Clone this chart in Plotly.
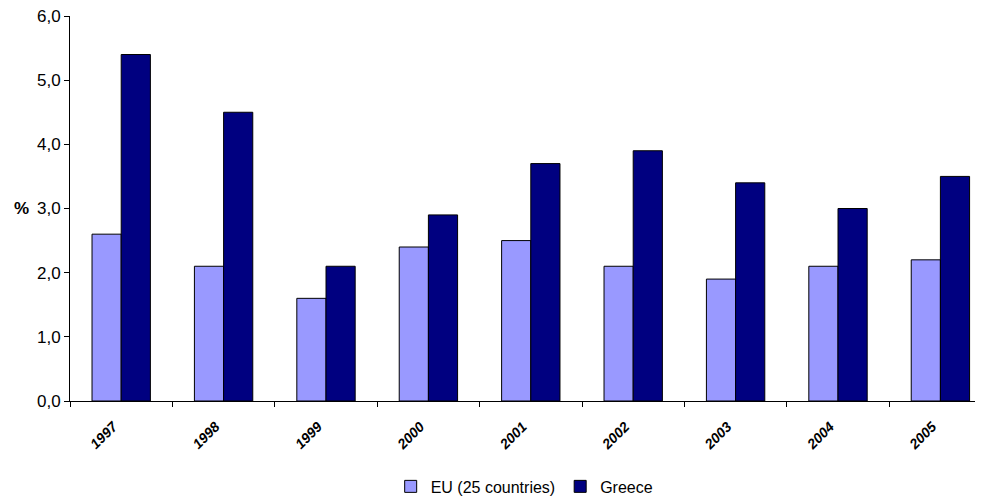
import plotly.graph_objects as go

years = ["1997", "1998", "1999", "2000", "2001", "2002", "2003", "2004", "2005"]
eu25 = [2.6, 2.1, 1.6, 2.4, 2.5, 2.1, 1.9, 2.1, 2.2]
greece = [5.4, 4.5, 2.1, 2.9, 3.7, 3.9, 3.4, 3.0, 3.5]
y_ticks = [0, 1, 2, 3, 4, 5, 6]

fig = go.Figure()
fig.add_trace(go.Bar(x=years, y=eu25, name="EU (25 countries)",
                     marker=dict(color="#9999FF", line=dict(color="black", width=1))))
fig.add_trace(go.Bar(x=years, y=greece, name="Greece",
                     marker=dict(color="#000080", line=dict(color="black", width=1))))

fig.update_layout(
    width=975, height=489,
    margin=dict(l=62, r=0, t=8, b=96, autoexpand=False),
    paper_bgcolor="white", plot_bgcolor="white",
    barmode="group", bargap=0.43, bargroupgap=0,
    separators=",.",
    font=dict(family="Liberation Sans, Arial, sans-serif", color="black"),
    showlegend=True,
    legend=dict(orientation="h", x=0.498, xanchor="center", y=-0.222, yanchor="middle",
                font=dict(size=16), itemwidth=30, traceorder="normal",
                tracegroupgap=0, borderwidth=0),
    xaxis=dict(range=[-0.5, 8.416], showline=True, linecolor="black", linewidth=1,
               ticks="outside", tickson="boundaries", ticklen=5, tickcolor="black",
               tickangle=-45, ticklabelstandoff=11, ticklabelshift=-8,
               tickfont=dict(size=14, family="Liberation Sans, Arial", weight="bold", style="italic"),
               showgrid=False, zeroline=False),
    yaxis=dict(range=[0, 6], tickvals=y_ticks, tickformat=".1f", showline=True, linecolor="black",
               linewidth=1, ticks="outside", ticklen=5, tickcolor="black",
               ticklabeloverflow="allow",
               tickfont=dict(size=17), showgrid=False, zeroline=False),
    annotations=[dict(text="<b>%</b>", xref="paper", yref="paper", x=-0.043, y=0.5,
                      xanchor="right", yanchor="middle", showarrow=False, font=dict(size=17))],
)

fig.write_html("out.html")
